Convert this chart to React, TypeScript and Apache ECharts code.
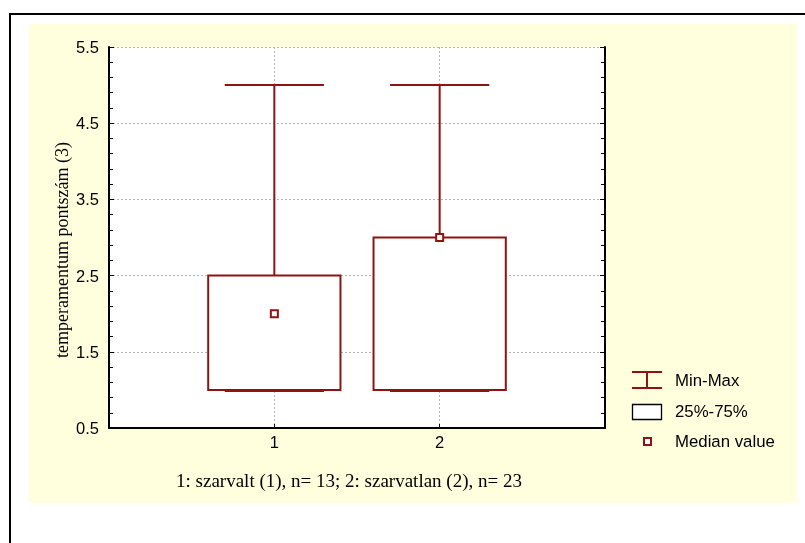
import React, { useEffect, useRef } from "react";
import * as echarts from "echarts";

const categories = [1, 2];
const minValues = [1, 1];
const q1Values = [1, 1];
const medianValues = [2, 3];
const q3Values = [2.5, 3];
const maxValues = [5, 5];
const xTickLabels = ["", "1", "2", ""];

const yTitle = "temperamentum pontszám (3)";
const xTitle = "1: szarvalt (1), n= 13; 2: szarvatlan (2), n= 23";
const legendLabels = ["Min-Max", "25%-75%", "Median value"];

const RED = "#8e1414";
const SANS = "'Liberation Sans', Arial, sans-serif";
const SERIF = "'Liberation Serif', 'Times New Roman', serif";
const GRID = "#b4b4b4";

export default function App() {
  const ref = useRef<HTMLDivElement>(null);
  useEffect(() => {
    if (!ref.current) return;
    const chart = echarts.init(ref.current, null, { renderer: "svg" });
    const data = categories.map((c, i) => [c, minValues[i], q1Values[i], medianValues[i], q3Values[i], maxValues[i]]);
    const yAxisCommon = {
      type: "value",
      min: 0.5,
      max: 5.5,
      interval: 1,
      axisLine: { show: true, onZero: false, lineStyle: { color: "#000", width: 2 } },
      axisTick: { show: true, inside: true, length: 5, lineStyle: { color: "#000" } },
      minorTick: { show: true, splitNumber: 5, length: 4, lineStyle: { color: "#000" } },
    };
    chart.setOption({
      animation: false,
      grid: { left: 109, top: 47, right: 200, bottom: 115, show: true, backgroundColor: "#fff", borderWidth: 0 },
      xAxis: {
        type: "value",
        min: 0,
        max: 3,
        interval: 1,
        axisLine: { show: true, onZero: false, lineStyle: { color: "#000", width: 2 } },
        axisTick: { show: true, inside: true, length: 4, lineStyle: { color: "#000" } },
        axisLabel: {
          formatter: (v: number) => xTickLabels[Math.round(v)] ?? "",
          fontFamily: SANS,
          fontSize: 16.5,
          color: "#000",
          margin: 5,
        },
        splitLine: {
          show: true,
          lineStyle: { color: ["transparent", GRID, GRID, "transparent"], type: [2, 2], width: 1 },
        },
      },
      yAxis: [
        {
          ...yAxisCommon,
          position: "left",
          axisLabel: {
            formatter: (v: number) => v.toFixed(1),
            fontFamily: SANS,
            fontSize: 16.5,
            color: "#000",
            margin: 10,
          },
          splitLine: {
            show: true,
            lineStyle: { color: ["transparent", GRID, GRID, GRID, GRID, GRID], type: [2, 2], width: 1 },
          },
        },
        {
          ...yAxisCommon,
          position: "right",
          axisLabel: { show: false },
          splitLine: { show: false },
        },
      ],
      series: [
        {
          type: "custom",
          data,
          encode: { x: 0, y: [1, 2, 3, 4, 5] },
          z: 5,
          renderItem: (params: any, api: any) => {
            const x = api.value(0);
            const pMin = api.coord([x, api.value(1)]);
            const pQ1 = api.coord([x, api.value(2)]);
            const pMed = api.coord([x, api.value(3)]);
            const pQ3 = api.coord([x, api.value(4)]);
            const pMax = api.coord([x, api.value(5)]);
            const boxW = api.size([0.8, 0])[0];
            const capW = api.size([0.6, 0])[0];
            const cx = pMed[0];
            const ls = { stroke: RED, lineWidth: 2, fill: null };
            return {
              type: "group",
              children: [
                { type: "line", shape: { x1: cx, y1: pMax[1], x2: cx, y2: pQ3[1] }, style: ls },
                { type: "line", shape: { x1: cx, y1: pQ1[1], x2: cx, y2: pMin[1] }, style: ls },
                { type: "line", shape: { x1: cx - capW / 2, y1: pMax[1], x2: cx + capW / 2, y2: pMax[1] }, style: ls },
                { type: "line", shape: { x1: cx - capW / 2, y1: pMin[1] + 1, x2: cx + capW / 2, y2: pMin[1] + 1 }, style: ls },
                {
                  type: "rect",
                  shape: { x: cx - boxW / 2, y: pQ3[1], width: boxW, height: pQ1[1] - pQ3[1] },
                  style: { stroke: RED, lineWidth: 2, fill: "#fff" },
                },
                {
                  type: "rect",
                  shape: { x: cx - 3.5, y: pMed[1] - 3.5, width: 7, height: 7 },
                  style: { stroke: RED, lineWidth: 2, fill: "#fff" },
                },
              ],
            };
          },
        },
      ],
      graphic: [
        { type: "rect", z: -20, silent: true, shape: { x: 10, y: 14, width: 900, height: 700 }, style: { fill: "#fff", stroke: "#000", lineWidth: 2 } },
        { type: "rect", z: -10, silent: true, shape: { x: 29, y: 24, width: 768, height: 479 }, style: { fill: "#fffedd" } },
        {
          type: "text",
          z: 10,
          x: 62,
          y: 250,
          rotation: Math.PI / 2,
          style: { text: yTitle, font: `18px ${SERIF}`, fill: "#000", textAlign: "center", textVerticalAlign: "middle" },
        },
        {
          type: "text",
          z: 10,
          x: 349,
          y: 480,
          style: { text: xTitle, font: `19px ${SERIF}`, fill: "#000", textAlign: "center", textVerticalAlign: "middle" },
        },
        { type: "line", z: 10, shape: { x1: 632, y1: 372, x2: 662, y2: 372 }, style: { stroke: RED, lineWidth: 2 } },
        { type: "line", z: 10, shape: { x1: 632, y1: 388, x2: 662, y2: 388 }, style: { stroke: RED, lineWidth: 2 } },
        { type: "line", z: 10, shape: { x1: 647, y1: 372, x2: 647, y2: 388 }, style: { stroke: RED, lineWidth: 2 } },
        { type: "text", z: 10, x: 675, y: 380, style: { text: legendLabels[0], font: `16.8px ${SANS}`, fill: "#000", textVerticalAlign: "middle" } },
        { type: "rect", z: 10, shape: { x: 632.5, y: 404.5, width: 29, height: 15 }, style: { fill: "#fff", stroke: "#000", lineWidth: 1.3 } },
        { type: "text", z: 10, x: 675, y: 411, style: { text: legendLabels[1], font: `16.8px ${SANS}`, fill: "#000", textVerticalAlign: "middle" } },
        { type: "rect", z: 10, shape: { x: 644, y: 438, width: 7, height: 7 }, style: { fill: "#fff", stroke: RED, lineWidth: 2 } },
        { type: "text", z: 10, x: 675, y: 441, style: { text: legendLabels[2], font: `16.8px ${SANS}`, fill: "#000", textVerticalAlign: "middle" } },
      ],
    });
    return () => chart.dispose();
  }, []);
  return <div ref={ref} style={{ position: "fixed", left: 0, top: 0, width: 805, height: 543 }} />;
}
